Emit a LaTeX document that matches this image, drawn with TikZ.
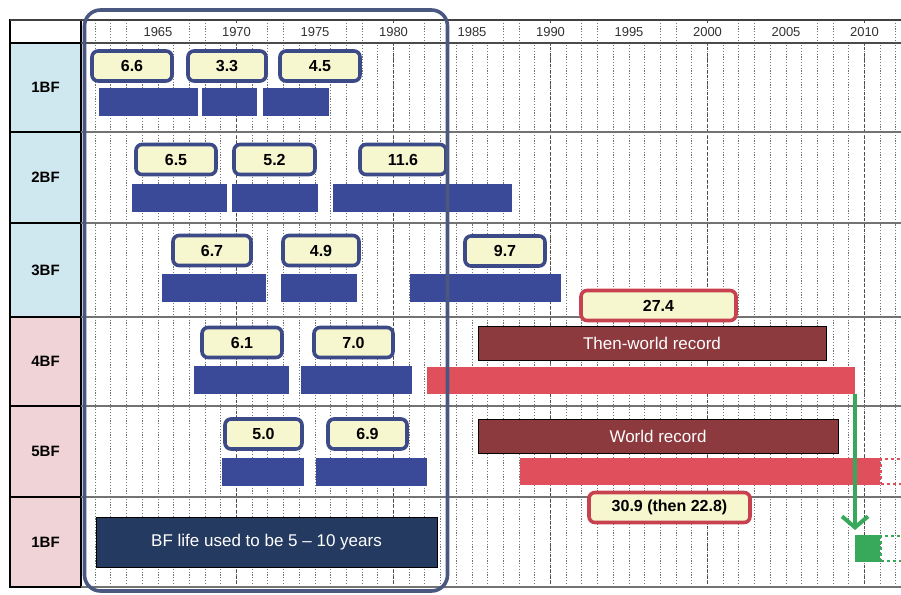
\documentclass[tikz,border=0pt]{standalone}
\usepackage{fontspec}
\setmainfont{Liberation Sans}
\usetikzlibrary{arrows.meta}

\definecolor{barblue}{HTML}{3B4A98}
\definecolor{valline}{HTML}{3D4A88}
\definecolor{valfill}{HTML}{F6F6CF}
\definecolor{redline}{HTML}{C8414F}
\definecolor{recbar}{HTML}{E0505C}
\definecolor{recfill}{HTML}{8D3A3E}
\definecolor{lifeblue}{HTML}{243A60}
\definecolor{framecol}{HTML}{4A5780}
\definecolor{newgreen}{HTML}{38A85A}
\definecolor{rowblue}{HTML}{CFE7EE}
\definecolor{rowpink}{HTML}{F0D3D6}

\begin{document}
\begin{tikzpicture}[x=1pt, y=-1pt,
    every node/.style={inner sep=0pt, outer sep=0pt},
    rowlab/.style={draw=black, line width=1.2pt, minimum width=71pt,
      font=\fontsize{15}{18}\selectfont\bfseries},
    yearlab/.style={fill=white, minimum width=40pt, minimum height=18pt,
      text=black!80, font=\fontsize{13}{15}\selectfont},
    gridline/.style={black!55, line width=1pt, dash pattern=on 1.2pt off 1.6pt},
    decline/.style={black!70, line width=1.4pt, dash pattern=on 3pt off 2.5pt},
    rowline/.style={black!55, line width=1.2pt},
    bluebar/.style={fill=barblue, minimum height=28pt, anchor=west},
    redbar/.style={fill=recbar, minimum height=27pt, anchor=west},
    valbox/.style={draw=valline, fill=valfill, line width=3.6pt, rounded corners=6pt,
      minimum height=30pt, font=\fontsize{16}{19}\selectfont\bfseries},
    redval/.style={valbox, draw=redline},
    recbox/.style={draw=black, fill=recfill, line width=1pt, minimum height=34pt,
      text=white, font=\fontsize{17}{20}\selectfont},
    frame/.style={draw=framecol, line width=3.6pt, rounded corners=16pt},
    newarrow/.style={draw=newgreen, line width=4pt,
      -{Straight Barb[length=11pt, width=26pt]}}
  ]
  \useasboundingbox (0,0) rectangle (901,594);

  % left column
  \node[draw=black, line width=1.2pt, fill=white, minimum width=71pt,
    minimum height=23pt] (corner) at (45.5,31.5) {};
  \foreach \n/\top/\bot/\txt/\col in {lab1/43/132/1BF/rowblue, lab2/132/223/2BF/rowblue,
      lab3/223/317/3BF/rowblue, lab4/317/406/4BF/rowpink,
      lab5/406/497/5BF/rowpink, lab6/497/587/1BF/rowpink}
    \node[rowlab, fill=\col, minimum height={\bot-\top}] (\n) at (45.5,{(\top+\bot)/2}) {\txt};

  % grid
  \foreach \yr in {1961,...,2012}
    \draw[gridline] ({158+(\yr-1965)*15.7},20) -- ++(0,567);
  \foreach \yr in {1970,1980,...,2010}
    \draw[decline] ({158+(\yr-1965)*15.7},20) -- ++(0,567);
  \draw[black!75, line width=1.5pt] (corner.north west) -- ++(900,0);
  \draw[black!70, line width=1.5pt] (corner.south east) -- ++(830,0);
  \foreach \n in {lab2,lab3,lab4,lab5,lab6}
    \draw[rowline] (\n.north east) -- ++(830,0);
  \draw[rowline] (lab6.south east) -- ++(830,0);
  \foreach \yr in {1965,1970,...,2010}
    \node[yearlab] (y\yr) at ({158+(\yr-1965)*15.7},32) {\yr};

  % blast furnace campaigns
  \foreach \n/\a/\b/\y in {b11/99/198/101.5, b12/202/257/101.5, b13/263/329/101.5,
      b21/132/227/197.5, b22/232/318/197.5, b23/333/512/197.5,
      b31/162/266/288, b32/281/357/288, b33/410/561/288,
      b41/194/289/380, b42/301/412/380,
      b51/222/304/471.5, b52/316/427/471.5}
    \node[bluebar, minimum width={\b-\a}] (\n) at (\a,\y) {};
  \node[redbar, minimum width=428pt] (r4) at (427,380) {};
  \node[redbar, minimum width=360pt] (r5) at (520,471.5) {};
  \node[draw=recbar, line width=2.2pt, dashed, minimum width=30pt,
    minimum height=25pt, anchor=west] (r5x) at (881,471.5) {};
  \node[fill=newgreen, minimum width=25pt, minimum height=27pt,
    anchor=west] (g6) at (855,548.5) {};
  \node[draw=newgreen, line width=2.2pt, dashed, minimum width=30pt,
    minimum height=25pt, anchor=west] (g6x) at (881,548.5) {};

  % campaign lives
  \foreach \n/\cx/\cy/\w/\t in {v11/132/66/80/6.6, v12/227/66/78/3.3, v13/320/66/80/4.5,
      v21/176/159.5/80/6.5, v22/274.5/159.5/81/5.2, v23/403/159.5/86/11.6,
      v31/212/250.5/78/6.7, v32/321/250.5/76/4.9, v33/505/251/80/9.7,
      v41/242/342.5/80/6.1, v42/353.5/342.5/79/7.0,
      v51/263.5/434/77/5.0, v52/367.5/434/79/6.9}
    \node[valbox, minimum width=\w] (\n) at (\cx,\cy) {\t};
  \node[redval, minimum width=155pt] (v34) at (658.5,305.5) {27.4};
  \node[redval, minimum width=161pt] (v53) at (669.5,507.5) {30.9 (then 22.8)};

  \node[recbox, minimum width=348pt] (rec4) at (652,343.5) {Then-world record};
  \node[recbox, minimum width=360pt] (rec5) at (658,436) {World record};
  \node[recbox, fill=lifeblue, minimum width=341pt, minimum height=50pt]
    (life) at (266.5,542) {BF life used to be 5 -- 10 years};

  \node[frame, minimum width=363pt, minimum height=581pt] (oldera) at (266,300.5) {};

  \draw[newarrow, shorten >=5pt] (r4.south east) -- (r4.south east |- g6.north);
\end{tikzpicture}
\end{document}
